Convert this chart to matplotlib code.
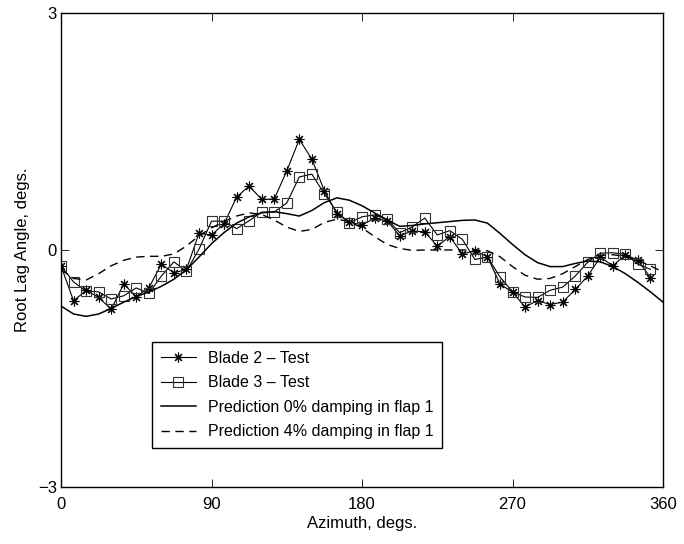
import matplotlib
matplotlib.use("Agg")
import matplotlib.pyplot as plt

plt.rcParams["font.family"] = ["Liberation Sans", "DejaVu Sans"]
plt.rcParams["font.size"] = 12

# Test data sampled every 7.5 degrees of azimuth
azimuth = [0, 7.5, 15, 22.5, 30, 37.5, 45, 52.5, 60, 67.5, 75, 82.5,
           90, 97.5, 105, 112.5, 120, 127.5, 135, 142.5, 150, 157.5, 165, 172.5,
           180, 187.5, 195, 202.5, 210, 217.5, 225, 232.5, 240, 247.5, 255, 262.5,
           270, 277.5, 285, 292.5, 300, 307.5, 315, 322.5, 330, 337.5, 345, 352.5]

blade2 = [-0.20, -0.645, -0.51, -0.60, -0.75, -0.43, -0.59, -0.48, -0.18, -0.29, -0.245, 0.21,
          0.19, 0.33, 0.67, 0.81, 0.64, 0.645, 1.00, 1.40, 1.15, 0.75, 0.46, 0.35,
          0.32, 0.40, 0.37, 0.18, 0.24, 0.23, 0.05, 0.17, -0.05, -0.01, -0.085, -0.43,
          -0.535, -0.72, -0.64, -0.69, -0.66, -0.50, -0.33, -0.09, -0.20, -0.06, -0.13, -0.35]

blade3 = [-0.20, -0.405, -0.52, -0.53, -0.62, -0.58, -0.48, -0.55, -0.33, -0.15, -0.27, 0.01,
          0.365, 0.365, 0.27, 0.37, 0.48, 0.48, 0.595, 0.925, 0.96, 0.71, 0.48, 0.345,
          0.42, 0.445, 0.39, 0.22, 0.29, 0.405, 0.19, 0.245, 0.135, -0.12, -0.09, -0.34,
          -0.53, -0.595, -0.60, -0.51, -0.47, -0.33, -0.155, -0.04, -0.035, -0.055, -0.18, -0.245]

# Predictions, same grid closed at 360
azimuth_pred = azimuth + [360]

pred_0 = [-0.71, -0.81, -0.84, -0.81, -0.74, -0.66, -0.59, -0.53, -0.46, -0.37, -0.25, -0.09,
          0.08, 0.22, 0.34, 0.42, 0.47, 0.485, 0.46, 0.43, 0.50, 0.60, 0.66, 0.63,
          0.56, 0.47, 0.38, 0.30, 0.31, 0.33, 0.345, 0.36, 0.375, 0.38, 0.34, 0.21,
          0.07, -0.06, -0.16, -0.21, -0.21, -0.17, -0.14, -0.15, -0.21, -0.30, -0.41, -0.53,
          -0.66]

pred_4 = [-0.25, -0.36, -0.38, -0.30, -0.20, -0.13, -0.09, -0.08, -0.08, -0.05, 0.05, 0.18,
          0.28, 0.36, 0.43, 0.47, 0.45, 0.38, 0.29, 0.235, 0.26, 0.35, 0.39, 0.36,
          0.28, 0.17, 0.07, 0.02, -0.005, 0.0, 0.0, 0.0, 0.0, 0.0, -0.01, -0.085,
          -0.21, -0.32, -0.37, -0.36, -0.30, -0.21, -0.12, -0.07, -0.06, -0.08, -0.13, -0.20,
          -0.28]

labels = ["Blade 2 \u2013 Test", "Blade 3 \u2013 Test",
          "Prediction 0% damping in flap 1", "Prediction 4% damping in flap 1"]

fig = plt.figure(figsize=(6.84, 5.44), dpi=100)
ax = fig.add_axes([0.0892, 0.1048, 0.8801, 0.8713])

ax.plot(azimuth, blade2, color="black", lw=0.8, marker=(8, 2, 0), markersize=7,
        markeredgewidth=0.8, label=labels[0])
ax.plot(azimuth, blade3, color="black", lw=0.8, marker="s", markersize=6.5,
        markerfacecolor="none", markeredgecolor="#333333", markeredgewidth=0.8,
        label=labels[1])
ax.plot(azimuth_pred, pred_0, color="black", lw=1.1, label=labels[2])
ax.plot(azimuth_pred, pred_4, color="black", lw=1.0, linestyle=(0, (6, 4)),
        label=labels[3])

ax.set_xlim(0, 360)
ax.set_ylim(-3, 3)
ax.set_xticks([0, 90, 180, 270, 360])
ax.set_yticks([-3, 0, 3])
ax.set_yticklabels(["\u22123", "0", "3"])
ax.tick_params(direction="in", length=6, width=0.6, top=True, right=True)
ax.tick_params(axis="x", pad=7)
ax.tick_params(axis="y", pad=3)
for spine in ax.spines.values():
    spine.set_linewidth(1.0)

ax.set_xlabel("Azimuth, degs.", labelpad=3)
ax.set_ylabel("Root Lag Angle, degs.", labelpad=6)

leg = ax.legend(loc="lower left", bbox_to_anchor=(0.151, 0.082), fancybox=False,
                edgecolor="black", framealpha=1, fontsize=11.5, handlelength=2.2,
                handletextpad=0.75, labelspacing=0.59, borderpad=0.55, borderaxespad=0)
leg.get_frame().set_linewidth(1.0)

fig.savefig("out.png", dpi=100)
